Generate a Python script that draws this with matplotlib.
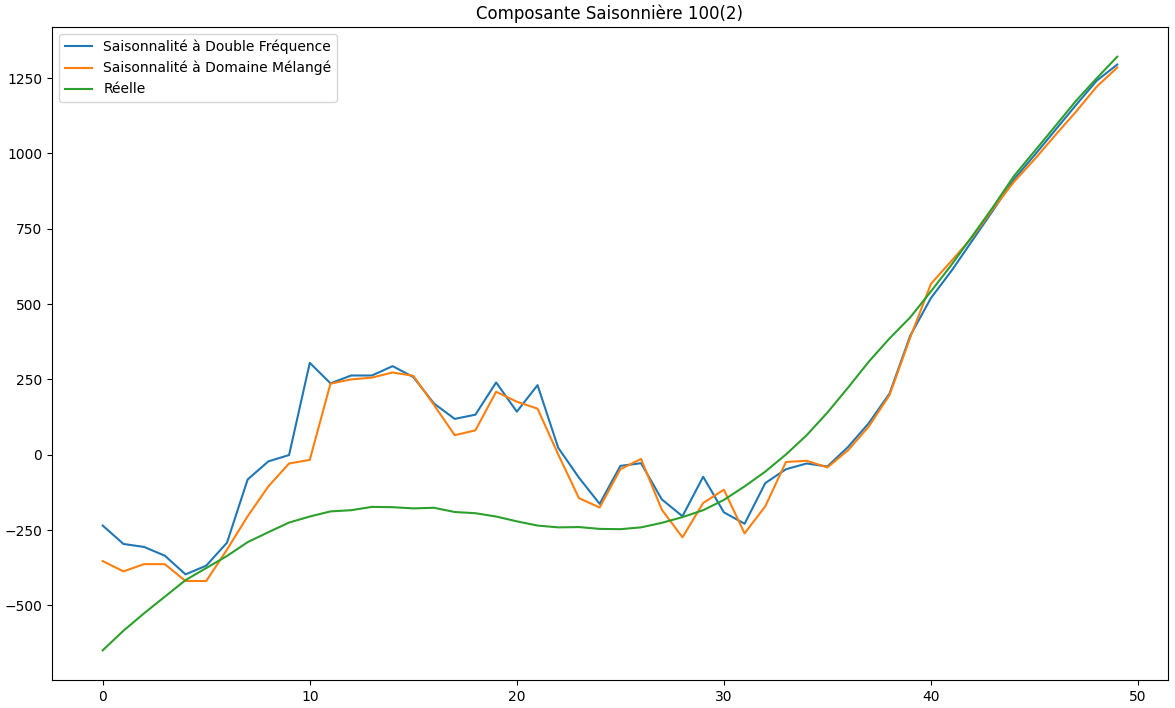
import numpy as np
import matplotlib
matplotlib.use("Agg")
import matplotlib.pyplot as plt

steps = np.arange(50)

double_freq = [
    -235, -296, -306, -335, -397, -368, -292, -82, -22, -1,
    305, 237, 263, 263, 294, 258, 170, 119, 133, 240,
    143, 231, 23, -76, -163, -37, -28, -148, -204, -73,
    -191, -229, -94, -48, -29, -39, 26, 105, 203, 395,
    520, 611, 711, 811, 913, 994, 1077, 1160, 1241, 1295,
]

mixed_domain = [
    -353, -387, -363, -363, -419, -419, -315, -204, -105, -29,
    -17, 236, 250, 256, 273, 262, 165, 65, 81, 209,
    176, 153, 1, -144, -175, -48, -14, -182, -274, -160,
    -116, -261, -171, -24, -20, -42, 15, 94, 198, 389,
    567, 644, 722, 816, 905, 980, 1060, 1138, 1221, 1285,
]

actual = [
    -649, -584, -526, -471, -416, -376, -336, -290, -257, -225,
    -205, -188, -184, -173, -174, -178, -176, -190, -194, -205,
    -221, -235, -241, -240, -246, -247, -241, -226, -207, -184,
    -150, -105, -56, 1, 65, 140, 223, 309, 386, 456,
    542, 631, 726, 822, 924, 1007, 1090, 1174, 1249, 1321,
]

fig, ax = plt.subplots(figsize=(11.75, 7.08), dpi=100)
fig.subplots_adjust(left=52 / 1175, right=1168 / 1175, top=1 - 27 / 708, bottom=1 - 680 / 708)

ax.plot(steps, double_freq, label="Saisonnalité à Double Fréquence")
ax.plot(steps, mixed_domain, label="Saisonnalité à Domaine Mélangé")
ax.plot(steps, actual, label="Réelle")

ax.set_title("Composante Saisonnière 100(2)", fontsize=12)
ax.tick_params(labelsize=10)
ax.legend(loc="upper left", fontsize=10)

fig.savefig("out.png", dpi=100)
